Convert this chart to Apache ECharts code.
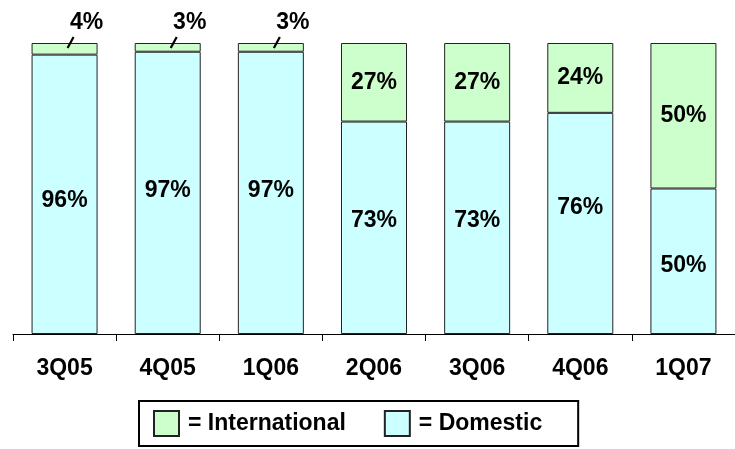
<!DOCTYPE html>
<html>
<head>
<meta charset="utf-8">
<script src="https://cdn.jsdelivr.net/npm/echarts@6/dist/echarts.min.js"></script>
<style>
  html, body { margin: 0; padding: 0; background: #fff; }
  #chart { width: 735px; height: 449px; }
</style>
</head>
<body>
<div id="chart"></div>
<script>
// Quarterly revenue mix, percent of total
const quarters = ['3Q05', '4Q05', '1Q06', '2Q06', '3Q06', '4Q06', '1Q07'];
const domestic = [96, 97, 97, 73, 73, 76, 50];
const international = [4, 3, 3, 27, 27, 24, 50];

const FONT = 'Arial, "Liberation Sans", sans-serif';
const FONT_SIZE = 23;
const SMALL_SHARE = 10; // segments too thin to hold their own label
// vertical nudges for the domestic value labels (px)
const domesticLabelNudge = [6, -2, -2, -7, -7, -16, 4];

const chart = echarts.init(document.getElementById('chart'));

const labelText = {
  fontFamily: FONT, fontWeight: 'bold', fontSize: FONT_SIZE, color: '#000'
};

chart.setOption({
  backgroundColor: '#ffffff',
  animation: false,
  grid: { left: 13, right: -5, top: 43, bottom: 115, containLabel: false },
  legend: {
    data: ['International', 'Domestic'],
    left: 139,
    top: 401,
    padding: [9, 36, 9, 14],
    borderColor: '#000',
    borderWidth: 2,
    itemWidth: 25,
    itemHeight: 25,
    itemGap: 38,
    icon: 'rect',
    formatter: '= {name}',
    textStyle: { fontFamily: FONT, fontWeight: 'bold', fontSize: FONT_SIZE, color: '#000', padding: [0, 0, 0, 4] }
  },
  xAxis: {
    type: 'category',
    data: quarters,
    axisLine: { lineStyle: { color: '#000', width: 1 } },
    axisTick: { show: true, length: 7, lineStyle: { color: '#000' } },
    axisLabel: Object.assign({ margin: 23 }, labelText)
  },
  yAxis: { type: 'value', min: 0, max: 100, show: false },
  series: [
    {
      name: 'Domestic',
      type: 'bar',
      stack: 'mix',
      barWidth: 66,
      data: domestic.map((v, i) => ({
        value: v,
        label: { offset: [0, domesticLabelNudge[i]] }
      })),
      itemStyle: { color: '#CCFFFF', borderColor: '#222', borderWidth: 1 },
      label: Object.assign({ show: true, position: 'inside', formatter: '{c}%' }, labelText)
    },
    {
      name: 'International',
      type: 'bar',
      stack: 'mix',
      barWidth: 66,
      data: international.map(v => v < SMALL_SHARE
        ? { value: v, label: { position: 'top', distance: 9, offset: [22, 0] } }
        : v),
      itemStyle: { color: '#CCFFCC', borderColor: '#222', borderWidth: 1 },
      label: Object.assign({ show: true, position: 'inside', formatter: '{c}%' }, labelText)
    }
  ]
});

// short leader strokes tying the outside labels to their thin segments
const leaders = [];
international.forEach((v, i) => {
  if (v >= SMALL_SHARE) return;
  const top = chart.convertToPixel({ seriesIndex: 1 }, [i, domestic[i] + v]);
  leaders.push({
    type: 'line',
    shape: { x1: top[0] + 3, y1: top[1] + 5, x2: top[0] + 9, y2: top[1] - 6 },
    style: { stroke: '#000', lineWidth: 2.2 },
    z: 10
  });
});
chart.setOption({ graphic: leaders });
</script>
</body>
</html>
